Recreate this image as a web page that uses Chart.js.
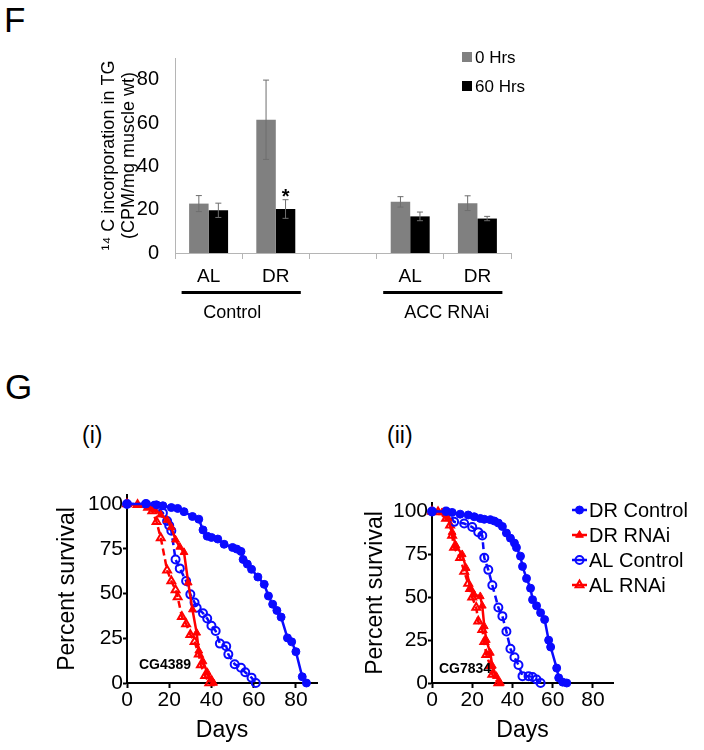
<!DOCTYPE html>
<html>
<head>
<meta charset="utf-8">
<script src="https://cdn.jsdelivr.net/npm/chart.js@4.4.1/dist/chart.umd.min.js"></script>
<style>
  body { margin: 0; background: #fff; font-family: 'Liberation Sans', Arial, sans-serif; }
  #page { position: relative; width: 704px; height: 750px; overflow: hidden; background: #fff; }
  .lbl { position: absolute; color: #000; line-height: 1; white-space: nowrap; }
  canvas { position: absolute; }
</style>
</head>
<body>
<div id="page">
  <div class="lbl" style="left:4px;top:2px;font-size:35px">F</div>
  <div class="lbl" style="left:5px;top:369px;font-size:35px">G</div>
  <div class="lbl" style="left:82px;top:424px;font-size:23px">(i)</div>
  <div class="lbl" style="left:387px;top:424px;font-size:23px">(ii)</div>
  <canvas id="barChart" width="704" height="330" style="left:0;top:0"></canvas>
  <canvas id="survA" width="360" height="280" style="left:0;top:470px"></canvas>
  <canvas id="survB" width="344" height="280" style="left:360px;top:470px"></canvas>
</div>
<script>
// --- Panel F: 14C incorporation in TG ---
const barCategories = ['AL', 'DR', '', 'AL', 'DR'];
const hrs0 = [22.8, 61.5, null, 23.6, 23.0];
const hrs0Err = [3.7, 18.3, null, 2.4, 3.4];
const hrs60 = [19.7, 20.3, null, 16.9, 15.9];
const hrs60Err = [3.3, 4.3, null, 2.0, 1.0];
const hrs60Sig = ['', '*', '', '', ''];
const barYTicks = [0, 20, 40, 60, 80];
const groupNames = ['Control', 'ACC RNAi'];
const groupFirst = [0, 3];
const groupLast = [1, 4];

// --- Panel G: survival curves ---
const survLegend = ['DR Control', 'DR RNAi', 'AL Control', 'AL RNAi'];
const survYTicks = [0, 25, 50, 75, 100];
const survXTicks = [0, 20, 40, 60, 80];

// (i) CG4389
const iDrCtrlDays = [0, 9, 14, 17, 21, 24, 27, 31, 34, 36, 38, 40, 43, 46, 50, 52, 54, 55, 57, 59, 62, 65, 67, 69, 71, 73, 76, 78, 80, 83, 85];
const iDrCtrlPct = [100, 100, 99.5, 99, 98, 97.5, 95.7, 93, 91.5, 85.5, 82, 81.3, 80.4, 77.5, 75.7, 74.8, 73.5, 69, 66.4, 63.5, 59.2, 55.1, 48.6, 44, 40.5, 36.8, 25.2, 23, 17.5, 3.5, 0];
const iDrRnaiDays = [0, 5, 10, 13, 16, 19, 21, 23, 25, 27, 29, 31, 33, 34, 36, 38, 40, 41];
const iDrRnaiPct = [100, 99.5, 98.5, 97, 94, 91, 87, 80, 76, 73, 56, 41, 28, 18, 12, 6, 2, 0];
const iAlCtrlDays = [0, 9, 13, 17, 19, 20, 21, 23, 25, 28, 30, 32, 33, 36, 38, 40, 42, 44, 47, 48, 51, 54, 56, 59, 61];
const iAlCtrlPct = [100, 100, 99, 95, 90.5, 88, 85, 69, 64, 57, 49.5, 45, 42, 39, 36, 32, 29, 22, 20.5, 16, 10.5, 8.5, 6, 3, 0];
const iAlRnaiDays = [0, 5, 10, 12, 14, 16, 19, 21, 23, 24, 26, 28, 30, 32, 34, 35, 37, 39];
const iAlRnaiPct = [100, 99.5, 98, 96, 90, 81, 63, 57, 52, 48, 37, 33, 27, 23, 16, 10, 4, 0];

// (ii) CG7834
const iiDrCtrlDays = [0, 7, 10, 14, 18, 21, 24, 26, 29, 31, 33, 35, 37, 39, 41, 42, 44, 45, 47, 49, 50, 52, 54, 56, 58, 59, 62, 63, 65, 67];
const iiDrCtrlPct = [100, 100, 99.5, 98.5, 98, 97, 96, 95.5, 95.3, 94.5, 93.3, 91.3, 87.5, 84.5, 81.6, 79, 74, 68, 61, 55.3, 48.6, 45, 41, 37, 25, 21, 8.7, 3, 0.5, 0];
const iiDrRnaiDays = [0, 5, 8, 10, 12, 15, 17, 19, 21, 24, 25, 26, 27, 29, 30, 32, 34];
const iiDrRnaiPct = [100, 99.5, 96, 88, 80, 75, 67, 55, 51.5, 50.5, 45, 33, 25, 17.5, 10, 4, 0];
const iiAlCtrlDays = [0, 7, 11, 16, 20, 23, 25, 26, 28, 30, 33, 35, 37, 39, 41, 43, 45, 48, 50, 52, 54];
const iiAlCtrlPct = [100, 100, 94, 93, 91, 88, 86, 73, 66, 57, 44, 39, 30, 20, 15, 10.5, 4, 4, 3.5, 2, 0];
const iiAlRnaiDays = [0, 3, 7, 9, 10, 11, 14, 16, 18, 19, 20, 22, 23, 25, 26, 27, 29, 30, 33];
const iiAlRnaiPct = [100, 99.8, 96, 92, 86, 79, 73, 65, 58, 55, 50, 44, 36, 31, 24, 16.5, 10, 5, 0];

const FONT = "'Liberation Sans', Arial, sans-serif";
Chart.defaults.font.family = FONT;
Chart.defaults.color = '#000';

// error bars + significance star on top of bars
const errorBars = {
  id: 'errorBars',
  afterDatasetsDraw(chart) {
    const ctx = chart.ctx;
    const y = chart.scales.y;
    chart.data.datasets.forEach((ds, di) => {
      chart.getDatasetMeta(di).data.forEach((bar, i) => {
        const v = ds.data[i], e = ds.errors[i];
        if (v == null || e == null) return;
        const top = y.getPixelForValue(v + e);
        const bot = y.getPixelForValue(v - e);
        ctx.save();
        ctx.strokeStyle = '#6e6e6e';
        ctx.lineWidth = 1;
        ctx.beginPath();
        ctx.moveTo(bar.x, top); ctx.lineTo(bar.x, bot);
        ctx.moveTo(bar.x - 3, top); ctx.lineTo(bar.x + 3, top);
        ctx.moveTo(bar.x - 3, bot); ctx.lineTo(bar.x + 3, bot);
        ctx.stroke();
        if (ds.marks && ds.marks[i]) {
          ctx.fillStyle = '#000';
          ctx.font = 'bold 20px ' + FONT;
          ctx.textAlign = 'center';
          ctx.fillText(ds.marks[i], bar.x, top + 3);
        }
        ctx.restore();
      });
    });
  }
};

// group underline + name, and the small legend
const barExtras = {
  id: 'barExtras',
  afterDraw(chart) {
    const ctx = chart.ctx;
    const x = chart.scales.x;
    const shift = [-9, 4];
    ctx.save();
    ctx.fillStyle = '#000';
    ctx.font = '18px ' + FONT;
    ctx.textAlign = 'center';
    groupNames.forEach((name, g) => {
      const x0 = x.getPixelForValue(groupFirst[g]) - 27;
      const x1 = x.getPixelForValue(groupLast[g]) + 25;
      ctx.fillRect(x0, 291, x1 - x0, 3);
      ctx.fillText(name, (x0 + x1) / 2 + shift[g], 318);
    });
    ctx.textAlign = 'left';
    ctx.textBaseline = 'middle';
    ctx.font = '17px ' + FONT;
    chart.data.datasets.forEach((ds, k) => {
      const cy = 57 + k * 29;
      ctx.fillStyle = ds.backgroundColor;
      ctx.fillRect(462, cy - 5, 10, 10);
      ctx.fillStyle = '#000';
      ctx.fillText(ds.label, 475, cy + 1);
    });
    ctx.restore();
  }
};

new Chart(document.getElementById('barChart'), {
  type: 'bar',
  data: {
    labels: barCategories,
    datasets: [
      { label: '0 Hrs', data: hrs0, errors: hrs0Err, backgroundColor: '#808080' },
      { label: '60 Hrs', data: hrs60, errors: hrs60Err, marks: hrs60Sig, backgroundColor: '#000000' }
    ]
  },
  options: {
    responsive: false,
    animation: false,
    layout: { padding: { left: 0, right: 193, top: 58, bottom: 0 } },
    datasets: { bar: { categoryPercentage: 0.58, barPercentage: 1.0 } },
    scales: {
      x: {
        grid: { drawOnChartArea: false, drawTicks: true, tickLength: 6, color: '#b5b5b5' },
        border: { color: '#b5b5b5' },
        ticks: { font: { size: 19 }, padding: 6, color: '#000' },
        afterFit: s => { s.height = 77; }
      },
      y: {
        min: 0,
        max: 90,
        grid: { display: false },
        border: { color: '#b5b5b5' },
        ticks: { font: { size: 20 }, padding: 8, color: '#000' },
        afterBuildTicks: s => { s.ticks = barYTicks.map(v => ({ value: v })); },
        afterFit: s => { s.width = 175; },
        title: {
          display: true,
          text: ['\u00B9\u2074 C incorporation in TG', '(CPM/mg muscle wt)'],
          font: { size: 18, lineHeight: 1.1 },
          padding: { top: 99, bottom: 0 },
          color: '#000'
        }
      }
    },
    plugins: { legend: { display: false }, tooltip: { enabled: false } }
  },
  plugins: [errorBars, barExtras]
});

// --- survival charts ---
const survStyles = [
  { color: '#0a0aff', point: 'circle', filled: true, dash: [] },
  { color: '#ff0000', point: 'triangle', filled: true, dash: [] },
  { color: '#0a0aff', point: 'circle', filled: false, dash: [7, 4] },
  { color: '#ff0000', point: 'triangle', filled: false, dash: [7, 4] }
];

const survExtras = {
  id: 'survExtras',
  afterDraw(chart, args, opts) {
    const ctx = chart.ctx;
    ctx.save();
    // gene name inside the plot
    ctx.fillStyle = '#000';
    ctx.font = 'bold 14px ' + FONT;
    ctx.textAlign = 'center';
    ctx.textBaseline = 'middle';
    ctx.fillText(opts.gene, chart.chartArea.left + opts.geneDx, chart.chartArea.bottom - opts.geneDy);
    if (opts.legend) {
      chart.data.datasets.forEach((ds, k) => {
        const y = opts.legendTop + k * opts.legendStep;
        const x0 = opts.legendLeft;
        ctx.strokeStyle = ds.borderColor;
        ctx.lineWidth = 2.5;
        ctx.setLineDash([]);
        ctx.beginPath(); ctx.moveTo(x0, y); ctx.lineTo(x0 + 15, y); ctx.stroke();
        ctx.fillStyle = ds.pointBackgroundColor;
        ctx.strokeStyle = ds.pointBorderColor;
        ctx.lineWidth = ds.pointBorderWidth;
        Chart.helpers.drawPoint(ctx, { pointStyle: ds.pointStyle, radius: ds.pointRadius, borderWidth: ds.pointBorderWidth, rotation: 0 }, x0 + 7.5, y);
        ctx.fillStyle = '#000';
        ctx.font = '20px ' + FONT;
        ctx.textAlign = 'left';
        ctx.fillText(ds.label, x0 + 17, y + 1);
      });
    }
    ctx.restore();
  }
};

function survivalChart(id, days, pcts, geom, extras) {
  const datasets = survLegend.map((name, k) => {
    const st = survStyles[k];
    const fill = st.filled ? st.color : 'rgba(0,0,0,0)';
    return {
      label: name,
      data: days[k].map((d, i) => ({ x: d, y: pcts[k][i] })),
      borderColor: st.color,
      backgroundColor: fill,
      borderWidth: 2.5,
      borderDash: st.dash,
      pointStyle: st.point,
      pointRadius: st.point === 'triangle' ? 4.5 : 4,
      pointBorderColor: st.color,
      pointBackgroundColor: fill,
      pointBorderWidth: st.filled ? 1 : 2,
      tension: 0,
      clip: false
    };
  });
  return new Chart(document.getElementById(id), {
    type: 'line',
    data: { datasets },
    options: {
      responsive: false,
      animation: false,
      layout: { padding: { left: 0, right: geom.right, top: geom.top, bottom: 0 } },
      scales: {
        x: {
          type: 'linear',
          min: 0,
          max: 90,
          grid: { drawOnChartArea: false, tickLength: 5, tickColor: '#000', tickWidth: 2 },
          border: { color: '#000', width: 2 },
          ticks: { font: { size: 21 }, padding: 0, color: '#000' },
          afterBuildTicks: s => { s.ticks = survXTicks.map(v => ({ value: v })); },
          afterFit: s => { s.height = 67; },
          title: { display: true, text: 'Days', font: { size: 23 }, padding: { top: 0, bottom: 6 }, color: '#000' }
        },
        y: {
          min: 0,
          max: 105,
          grid: { drawOnChartArea: false, tickLength: 4, tickColor: '#000', tickWidth: 2 },
          border: { color: '#000', width: 2 },
          ticks: { font: { size: 21 }, padding: 0, color: '#000' },
          afterBuildTicks: s => { s.ticks = survYTicks.map(v => ({ value: v })); },
          afterFit: s => { s.width = geom.left; },
          title: { display: true, text: 'Percent survival', font: { size: 23 }, padding: { top: geom.titlePad, bottom: 0 }, color: '#000' }
        }
      },
      plugins: { legend: { display: false }, tooltip: { enabled: false }, survExtras: extras }
    },
    plugins: [survExtras]
  });
}

survivalChart('survA',
  [iDrCtrlDays, iDrRnaiDays, iAlCtrlDays, iAlRnaiDays],
  [iDrCtrlPct, iDrRnaiPct, iAlCtrlPct, iAlRnaiPct],
  { left: 127, right: 43, top: 25, titlePad: 54 },
  { gene: 'CG4389', geneDx: 38, geneDy: 18, legend: false });

survivalChart('survB',
  [iiDrCtrlDays, iiDrRnaiDays, iiAlCtrlDays, iiAlRnaiDays],
  [iiDrCtrlPct, iiDrRnaiPct, iiAlCtrlPct, iiAlRnaiPct],
  { left: 72, right: 91, top: 33, titlePad: 2 },
  { gene: 'CG7834', geneDx: 33, geneDy: 14, legend: true, legendLeft: 212, legendTop: 40, legendStep: 25 });
</script>
</body>
</html>
